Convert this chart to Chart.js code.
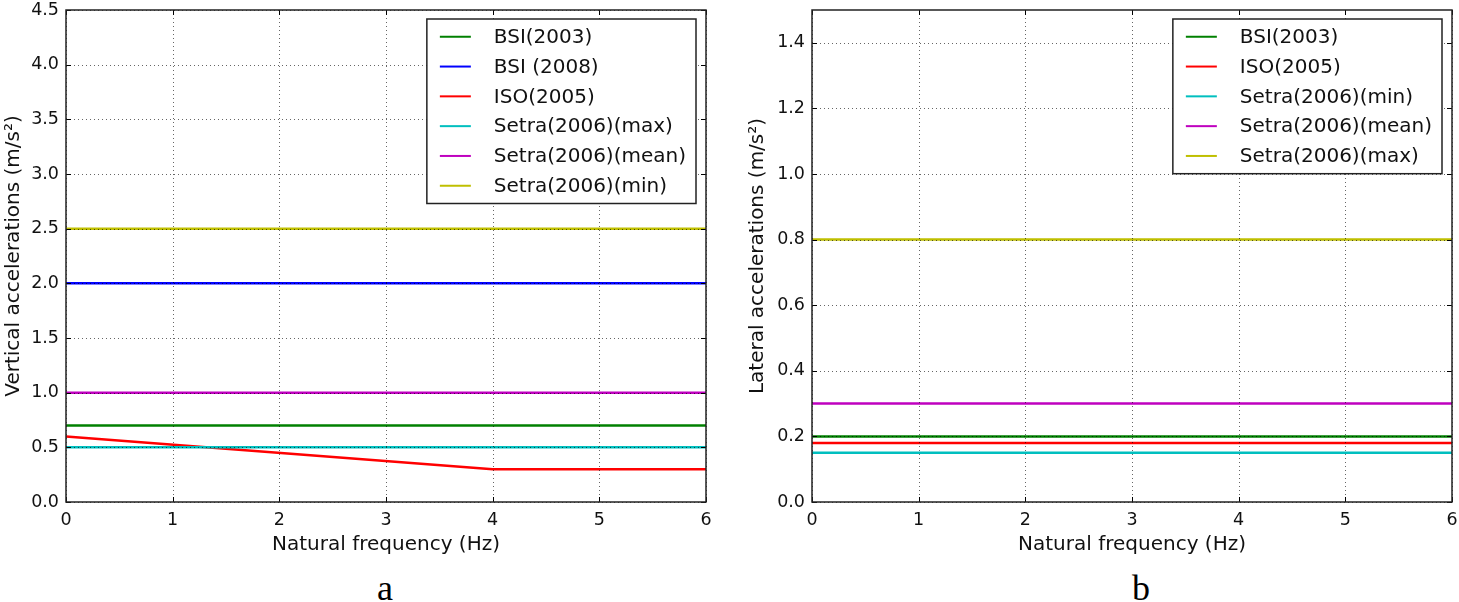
<!DOCTYPE html>
<html>
<head>
<meta charset="utf-8">
<script src="https://cdn.jsdelivr.net/npm/chart.js@4.4.1/dist/chart.umd.min.js"></script>
<style>
  body { margin: 0; background: #fff; width: 1459px; height: 602px; overflow: hidden; position: relative; }
  .box { position: absolute; top: 0; height: 560px; }
  #boxA { left: 0; width: 720px; }
  #boxB { left: 740px; width: 719px; }
  .tag { position: absolute; top: 570px; font-family: 'Liberation Serif', serif; font-size: 36px; line-height: 36px; color: #000; }
</style>
</head>
<body>
<div class="box" id="boxA"><canvas id="chartA"></canvas></div>
<div class="box" id="boxB"><canvas id="chartB"></canvas></div>
<div class="tag" style="left:377px">a</div>
<div class="tag" style="left:1132px">b</div>
<script>
// x positions (Hz)
const freqEnds = [0, 6];
const isoFreq = [0, 4, 6];

// panel a: vertical accelerations (m/s2)
const vertLabels = ['BSI(2003)', 'BSI (2008)', 'ISO(2005)', 'Setra(2006)(max)', 'Setra(2006)(mean)', 'Setra(2006)(min)'];
const vertColors = ['#008000', '#0000ff', '#ff0000', '#00bfbf', '#bf00bf', '#bfbf00'];
const vertBsi2003 = [0.7, 0.7];
const vertBsi2008 = [2.0, 2.0];
const vertIso2005 = [0.6, 0.3, 0.3];
const vertSetraMax = [0.5, 0.5];
const vertSetraMean = [1.0, 1.0];
const vertSetraMin = [2.5, 2.5];

// panel b: lateral accelerations (m/s2)
const latLabels = ['BSI(2003)', 'ISO(2005)', 'Setra(2006)(min)', 'Setra(2006)(mean)', 'Setra(2006)(max)'];
const latColors = ['#008000', '#ff0000', '#00bfbf', '#bf00bf', '#bfbf00'];
const latBsi2003 = [0.2, 0.2];
const latIso2005 = [0.18, 0.18];
const latSetraMin = [0.15, 0.15];
const latSetraMean = [0.3, 0.3];
const latSetraMax = [0.8, 0.8];

const tickFont = { family: 'DejaVu Sans', size: 17.5 };
const titleFont = { family: 'DejaVu Sans', size: 20 };
const legendFont = { family: 'DejaVu Sans', size: 20 };

// matplotlib-like frame: dotted grid on top, inward ticks, box, legend box
const framePlugin = {
  id: 'frame',
  afterDatasetsDraw(chart) {
    const ctx = chart.ctx;
    const a = chart.chartArea;
    const x = chart.scales.x, y = chart.scales.y;
    ctx.save();
    ctx.lineWidth = 1;
    ctx.strokeStyle = 'rgba(0,0,0,0.6)';
    ctx.setLineDash([1, 3]);
    ctx.beginPath();
    x.ticks.forEach(t => {
      const px = Math.round(x.getPixelForValue(t.value)) + 0.5;
      ctx.moveTo(px, a.top); ctx.lineTo(px, a.bottom);
    });
    y.ticks.forEach(t => {
      const py = Math.round(y.getPixelForValue(t.value)) + 0.5;
      ctx.moveTo(a.left, py); ctx.lineTo(a.right, py);
    });
    ctx.stroke();
    ctx.setLineDash([]);

    ctx.strokeStyle = '#000';
    ctx.beginPath();
    x.ticks.forEach(t => {
      const px = Math.round(x.getPixelForValue(t.value)) + 0.5;
      ctx.moveTo(px, a.bottom); ctx.lineTo(px, a.bottom - 5);
      ctx.moveTo(px, a.top); ctx.lineTo(px, a.top + 5);
    });
    y.ticks.forEach(t => {
      const py = Math.round(y.getPixelForValue(t.value)) + 0.5;
      ctx.moveTo(a.left, py); ctx.lineTo(a.left + 5, py);
      ctx.moveTo(a.right, py); ctx.lineTo(a.right - 5, py);
    });
    ctx.stroke();

    ctx.lineWidth = 1.5;
    ctx.strokeStyle = '#222';
    ctx.strokeRect(a.left, a.top, a.right - a.left, a.bottom - a.top);

    // legend
    const sets = chart.data.datasets;
    ctx.font = legendFont.size + 'px ' + legendFont.family;
    let textW = 0;
    sets.forEach(d => { textW = Math.max(textW, ctx.measureText(d.label).width); });
    const rowH = 29.8;
    const boxW = 13 + 31 + 23 + textW + 10;
    const boxH = 35.5 + (sets.length - 1) * rowH;
    const bx = a.right - 10 - boxW;
    const by = a.top + 9;
    ctx.fillStyle = '#fff';
    ctx.fillRect(bx, by, boxW, boxH);
    ctx.lineWidth = 1.5;
    ctx.strokeStyle = '#222';
    ctx.strokeRect(bx, by, boxW, boxH);
    ctx.textBaseline = 'middle';
    ctx.textAlign = 'left';
    sets.forEach((d, i) => {
      const cy = by + 17.75 + i * rowH;
      ctx.strokeStyle = d.borderColor;
      ctx.lineWidth = 2;
      ctx.beginPath();
      ctx.moveTo(bx + 13, cy); ctx.lineTo(bx + 44, cy);
      ctx.stroke();
      ctx.fillStyle = '#111';
      ctx.fillText(d.label, bx + 67, cy + 1);
    });
    ctx.restore();
  }
};

function makePanel(id, labels, colors, xs, ys, yMax, yStep, yTitle, yWidth, rightPad, yTitlePad) {
  const datasets = labels.map((lab, i) => ({
    label: lab,
    data: xs[i].map((v, k) => ({ x: v, y: ys[i][k] })),
    borderColor: colors[i],
    backgroundColor: colors[i],
    borderWidth: 2.5,
    pointRadius: 0,
    tension: 0,
    fill: false,
    order: labels.length - i
  }));
  return new Chart(document.getElementById(id), {
    type: 'line',
    data: { datasets: datasets },
    options: {
      responsive: true,
      maintainAspectRatio: false,
      animation: false,
      layout: { padding: { top: 10, right: rightPad, left: 0, bottom: 0 } },
      plugins: { legend: { display: false }, tooltip: { enabled: false } },
      scales: {
        x: {
          type: 'linear', min: 0, max: 6,
          ticks: { stepSize: 1, color: '#111', font: tickFont, padding: 8, maxRotation: 0 },
          grid: { display: false, drawTicks: false },
          border: { display: false },
          title: { display: true, text: 'Natural frequency (Hz)', color: '#111', font: titleFont, padding: { top: 0, bottom: 3 } },
          afterFit: s => { s.height = 58; s.paddingLeft = 0; s.paddingRight = 0; }
        },
        y: {
          type: 'linear', min: 0, max: yMax,
          ticks: { stepSize: yStep, includeBounds: false, color: '#111', font: tickFont, padding: 7,
                   callback: v => Number(v).toFixed(1) },
          grid: { display: false, drawTicks: false },
          border: { display: false },
          title: { display: true, text: yTitle, color: '#111', font: titleFont, padding: { top: yTitlePad, bottom: 0 } },
          afterFit: s => { s.width = yWidth; s.paddingTop = 0; s.paddingBottom = 0; }
        }
      }
    },
    plugins: [framePlugin]
  });
}

makePanel('chartA', vertLabels, vertColors,
  [freqEnds, freqEnds, isoFreq, freqEnds, freqEnds, freqEnds],
  [vertBsi2003, vertBsi2008, vertIso2005, vertSetraMax, vertSetraMean, vertSetraMin],
  4.5, 0.5, 'Vertical accelerations (m/s²)', 66, 14, 2);

makePanel('chartB', latLabels, latColors,
  [freqEnds, freqEnds, freqEnds, freqEnds, freqEnds],
  [latBsi2003, latIso2005, latSetraMin, latSetraMean, latSetraMax],
  1.5, 0.2, 'Lateral accelerations (m/s²)', 72, 7, 6);
</script>
</body>
</html>
